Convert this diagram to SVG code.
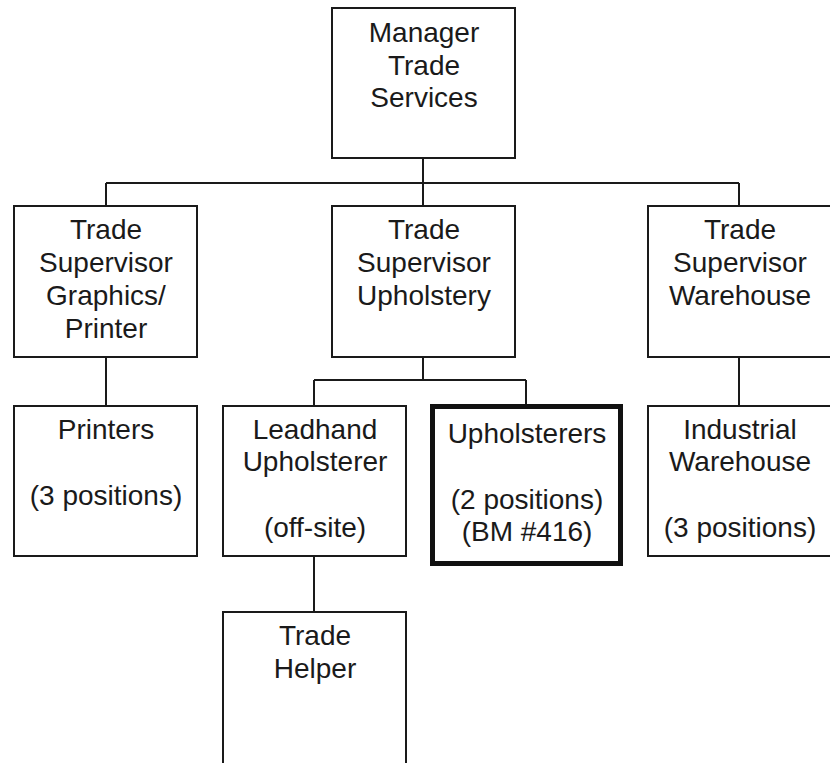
<svg xmlns="http://www.w3.org/2000/svg" width="830" height="763" viewBox="0 0 830 763">
<style>
.box{fill:#fff;stroke:#1a1a1a;stroke-width:2}
.thick{fill:#fff;stroke:#111;stroke-width:5}
.lbl{font-family:"Liberation Sans",Arial,sans-serif;font-size:28px;fill:#1a1a1a;text-anchor:middle}
.conn{fill:none;stroke:#1a1a1a;stroke-width:2}
</style>
<rect width="830" height="763" fill="#fff"/>
<g id="connectors" class="conn">
<path d="M423,159V183M106,183H739M106,183V206M423,183V206M739,183V206"/>
<path d="M423,357V380M314,380H526M314,380V406M526,380V405"/>
<path d="M106,357V406M739,357V406M314,556V612"/>
</g>
<g id="manager">
<rect class="box" x="332" y="8" width="183" height="150"/>
<text class="lbl" x="424" y="42">Manager</text>
<text class="lbl" x="424" y="74.5">Trade</text>
<text class="lbl" x="424" y="107">Services</text>
</g>
<g id="sup-graphics">
<rect class="box" x="14" y="206" width="183" height="151"/>
<text class="lbl" x="106" y="239">Trade</text>
<text class="lbl" x="106" y="272">Supervisor</text>
<text class="lbl" x="106" y="305">Graphics/</text>
<text class="lbl" x="106" y="338">Printer</text>
</g>
<g id="sup-upholstery">
<rect class="box" x="332" y="206" width="183" height="151"/>
<text class="lbl" x="424" y="239">Trade</text>
<text class="lbl" x="424" y="272">Supervisor</text>
<text class="lbl" x="424" y="305">Upholstery</text>
</g>
<g id="sup-warehouse">
<rect class="box" x="648" y="206" width="183" height="151"/>
<text class="lbl" x="740" y="239">Trade</text>
<text class="lbl" x="740" y="272">Supervisor</text>
<text class="lbl" x="740" y="305">Warehouse</text>
</g>
<g id="printers">
<rect class="box" x="14" y="406" width="183" height="150"/>
<text class="lbl" x="106" y="439">Printers</text>
<text class="lbl" x="106" y="505">(3 positions)</text>
</g>
<g id="leadhand">
<rect class="box" x="223" y="406" width="183" height="150"/>
<text class="lbl" x="315" y="439">Leadhand</text>
<text class="lbl" x="315" y="471">Upholsterer</text>
<text class="lbl" x="315" y="537">(off-site)</text>
</g>
<g id="upholsterers">
<rect class="thick" x="432.5" y="406.5" width="188" height="157"/>
<text class="lbl" x="527" y="443">Upholsterers</text>
<text class="lbl" x="527" y="509">(2 positions)</text>
<text class="lbl" x="527" y="541">(BM #416)</text>
</g>
<g id="industrial">
<rect class="box" x="648" y="406" width="183" height="150"/>
<text class="lbl" x="740" y="439">Industrial</text>
<text class="lbl" x="740" y="471">Warehouse</text>
<text class="lbl" x="740" y="537">(3 positions)</text>
</g>
<g id="helper">
<rect class="box" x="223" y="612" width="183" height="170"/>
<text class="lbl" x="315" y="645">Trade</text>
<text class="lbl" x="315" y="678">Helper</text>
</g>
</svg>
